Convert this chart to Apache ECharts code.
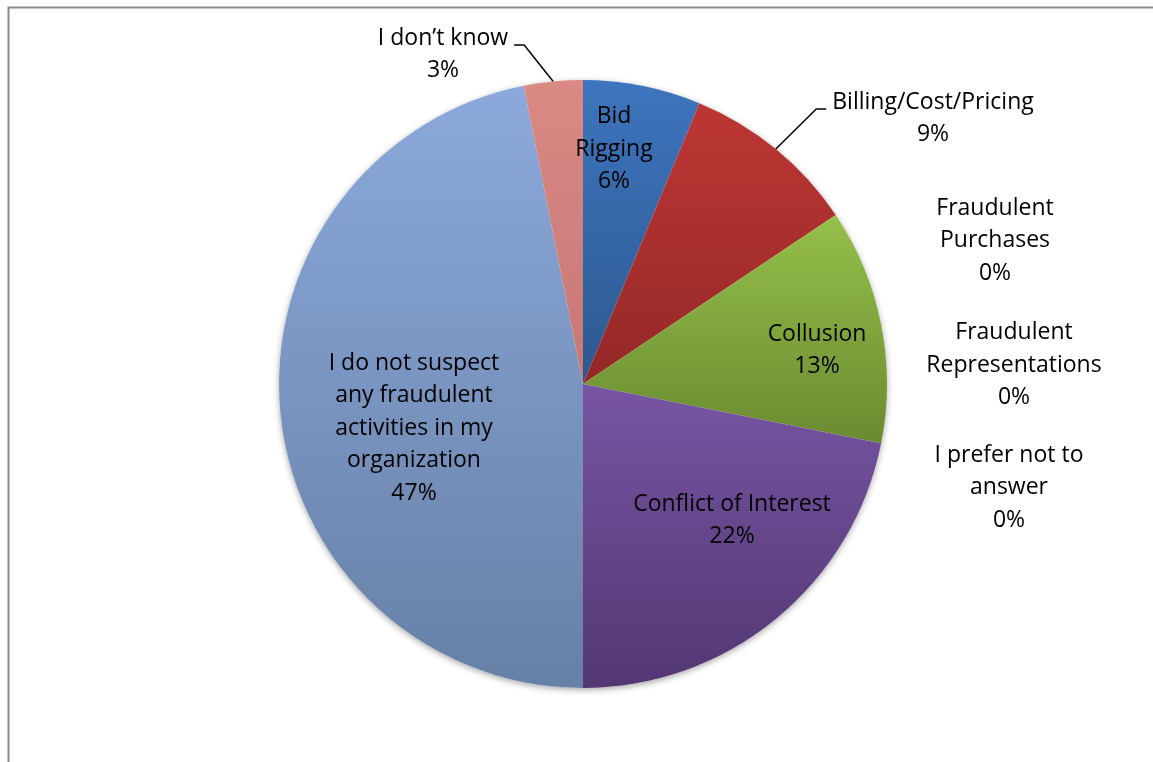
<!DOCTYPE html>
<html>
<head>
<meta charset="utf-8">
<script src="https://cdn.jsdelivr.net/npm/echarts@6/dist/echarts.min.js"></script>
<style>
  html, body { margin: 0; padding: 0; background: #ffffff; }
  #chart { width: 1153px; height: 762px; }
</style>
</head>
<body>
<div id="chart"></div>
<script>
// Survey responses: suspected fraud types
const categories = [
  'Bid Rigging',
  'Billing/Cost/Pricing',
  'Collusion',
  'Conflict of Interest',
  'Fraudulent Purchases',
  'Fraudulent Representations',
  'I prefer not to answer',
  'I do not suspect any fraudulent activities in my organization',
  'I don’t know'
];
const labelText = [
  'Bid\nRigging',
  'Billing/Cost/Pricing',
  'Collusion',
  'Conflict of Interest',
  'Fraudulent\nPurchases',
  'Fraudulent\nRepresentations',
  'I prefer not to\nanswer',
  'I do not suspect\nany fraudulent\nactivities in my\norganization',
  'I don’t know'
];
const responses = [2, 3, 4, 7, 0, 0, 0, 15, 1];

// Slice fills (top, bottom of vertical gradient)
const sliceColors = [
  ['#3e75be', '#2c5890'],
  ['#bd3734', '#932827'],
  ['#95bf4a', '#6a8b30'],
  ['#7755a3', '#533773'],
  ['#4bacc6', '#357f94'],
  ['#f79646', '#c0702f'],
  ['#2c4d75', '#1f3754'],
  ['#8ca9db', '#6780a6'],
  ['#da8985', '#c77874']
];

// Label block centres and which labels carry a leader line
const labelCenters = [
  [614, 149], [933, 118.5], [817, 350.5], [732, 520.5],
  [995, 240.5], [1014, 365], [1009, 487.5], [414, 428], [443, 54.5]
];
const leaderItems = [1, 8];

const total = responses.reduce((a, b) => a + b, 0);

const chart = echarts.init(document.getElementById('chart'), null, { renderer: 'canvas' });

const pieData = categories.map((name, i) => ({
  name: name,
  value: responses[i],
  itemStyle: {
    color: new echarts.graphic.LinearGradient(0, 0, 0, 1, [
      { offset: 0, color: sliceColors[i][0] },
      { offset: 1, color: sliceColors[i][1] }
    ])
  },
  labelLine: { show: leaderItems.indexOf(i) >= 0 }
}));

chart.setOption({
  animation: false,
  backgroundColor: '#ffffff',
  graphic: [{
    type: 'rect',
    left: 6, top: 5,
    shape: { width: 1400, height: 1000 },
    style: { fill: 'none', stroke: '#8a8a8a', lineWidth: 2 },
    silent: true,
    z: 0
  }],
  series: [
    {
      // soft drop shadow under the whole pie
      type: 'pie',
      center: [583, 384],
      radius: 304,
      silent: true,
      z: 1,
      label: { show: false },
      labelLine: { show: false },
      itemStyle: {
        color: '#ffffff',
        shadowBlur: 6,
        shadowColor: 'rgba(0,0,0,0.35)',
        shadowOffsetY: 2
      },
      data: [{ value: total }]
    },
    {
      type: 'pie',
      center: [583, 384],
      radius: 304,
      startAngle: 90,
      clockwise: true,
      avoidLabelOverlap: false,
      z: 2,
      itemStyle: { borderWidth: 0 },
      label: {
        show: true,
        position: 'outside',
        fontFamily: '"Open Sans", "Noto Sans", sans-serif',
        fontSize: 23,
        lineHeight: 32.5,
        color: '#000000',
        formatter: p => labelText[p.dataIndex] + '\n' + Math.round(p.value / total * 100) + '%'
      },
      labelLine: {
        show: false,
        length: 40,
        length2: 10,
        lineStyle: { color: '#000000', width: 1.5 }
      },
      labelLayout: function (p) {
        const pos = labelCenters[p.dataIndex];
        const w = p.labelRect.width;
        const h = p.labelRect.height;
        const out = { x: pos[0], y: pos[1], align: 'center', verticalAlign: 'middle' };
        if (leaderItems.indexOf(p.dataIndex) >= 0 && p.labelLinePoints) {
          const p0 = p.labelLinePoints[0];
          const right = pos[0] > p0[0];
          const lineY = pos[1] - h / 2 + 23;
          const endX = right ? pos[0] - w / 2 - 6 : pos[0] + w / 2 + 6;
          out.labelLinePoints = [
            [p0[0], p0[1]],
            [endX + (right ? -10 : 10), lineY],
            [endX, lineY]
          ];
        }
        return out;
      },
      data: pieData
    }
  ]
});
</script>
</body>
</html>
